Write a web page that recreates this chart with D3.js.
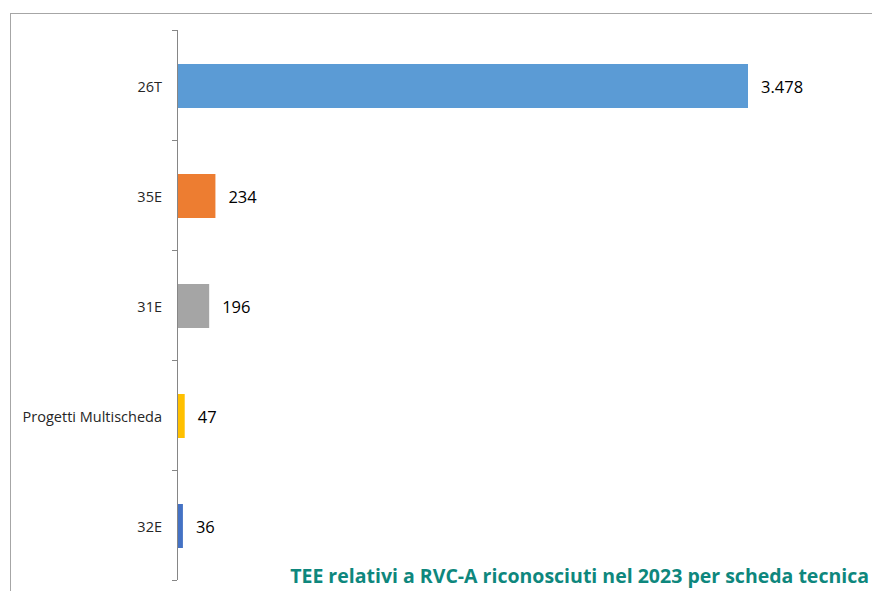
<!DOCTYPE html>
<html>
<head>
<meta charset="utf-8">
<script src="https://cdn.jsdelivr.net/npm/d3@7"></script>
<style>
  body { margin: 0; background: #fff; }
  svg { display: block; }
</style>
</head>
<body>
<div id="chart"></div>
<script>
// Data
var categories = ["26T", "35E", "31E", "Progetti Multischeda", "32E"];
var values = [3478, 234, 196, 47, 36];
var valueLabels = ["3.478", "234", "196", "47", "36"];
var barColors = ["#5B9BD5", "#ED7D31", "#A5A5A5", "#FFC000", "#4472C4"];
var chartTitle = "TEE relativi a RVC-A riconosciuti nel 2023 per scheda tecnica";

var width = 872, height = 591;
var fontFamily = '"Open Sans", "Noto Sans", sans-serif';

var svg = d3.select("#chart").append("svg")
  .attr("width", width)
  .attr("height", height);

// outer frame (top and left edge only are visible)
svg.append("line")
  .attr("x1", 10).attr("x2", width).attr("y1", 13.5).attr("y2", 13.5)
  .style("stroke", "#a6a6a6").style("stroke-width", 1);
svg.append("line")
  .attr("x1", 10.5).attr("x2", 10.5).attr("y1", 13).attr("y2", height)
  .style("stroke", "#a6a6a6").style("stroke-width", 1);

var axisX = 177, plotTop = 30, plotBottom = 580;

var y = d3.scaleBand()
  .domain(categories)
  .range([plotTop + 1, plotBottom + 1])
  .paddingInner(0.6)
  .paddingOuter(0.3);

var x = d3.scaleLinear()
  .domain([0, 3478])
  .range([axisX, 748]);

// bars
svg.selectAll(".bar")
  .data(values)
  .enter().append("rect")
    .attr("class", "bar")
    .attr("x", x(0))
    .attr("y", function(d, i) { return y(categories[i]); })
    .attr("width", function(d) { return x(d) - x(0); })
    .attr("height", y.bandwidth())
    .style("fill", function(d, i) { return barColors[i]; });

// value labels
svg.selectAll(".value")
  .data(values)
  .enter().append("text")
    .attr("class", "value")
    .text(function(d, i) { return valueLabels[i]; })
    .attr("x", function(d) { return x(d) + 13; })
    .attr("y", function(d, i) { return y(categories[i]) + y.bandwidth() / 2; })
    .attr("dy", "0.42em")
    .style("font-family", fontFamily)
    .style("font-size", "16.5px")
    .style("fill", "#000");

// category axis with ticks at the band boundaries
var axis = svg.append("g").attr("class", "y-axis");
axis.append("line")
  .attr("x1", axisX + 0.5).attr("x2", axisX + 0.5)
  .attr("y1", plotTop).attr("y2", plotBottom)
  .style("stroke", "#868686");
var step = (plotBottom - plotTop) / categories.length;
axis.selectAll(".tick")
  .data(d3.range(categories.length + 1))
  .enter().append("line")
    .attr("class", "tick")
    .attr("x1", axisX - 5).attr("x2", axisX)
    .attr("y1", function(d) { return plotTop + d * step + 0.5; })
    .attr("y2", function(d) { return plotTop + d * step + 0.5; })
    .style("stroke", "#868686");
axis.selectAll(".cat")
  .data(categories)
  .enter().append("text")
    .attr("class", "cat")
    .text(function(d) { return d; })
    .attr("x", axisX - 15)
    .attr("y", function(d) { return y(d) + y.bandwidth() / 2; })
    .attr("dy", "0.42em")
    .style("text-anchor", "end")
    .style("font-family", fontFamily)
    .style("font-size", "14.5px")
    .style("fill", "#262626");

// title, bottom right
svg.append("text")
  .text(chartTitle)
  .attr("x", 869)
  .attr("y", 583)
  .style("text-anchor", "end")
  .style("font-family", fontFamily)
  .style("font-size", "19.5px")
  .style("font-weight", "bold")
  .style("fill", "#0E877D");
</script>
</body>
</html>
